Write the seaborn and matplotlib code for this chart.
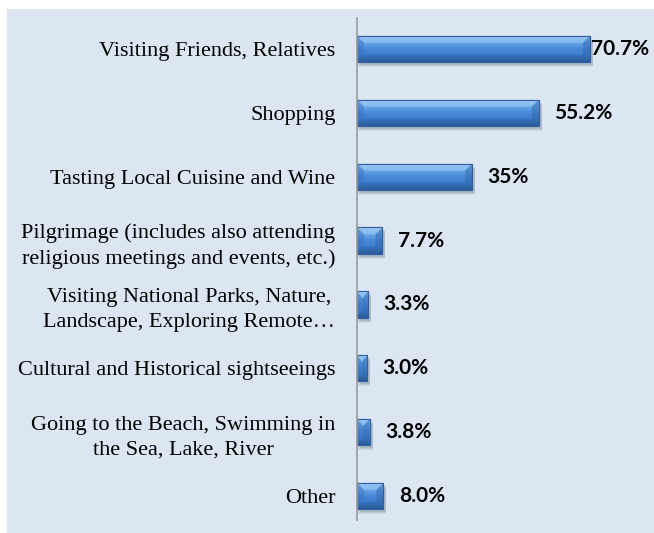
import numpy as np
import pandas as pd
import matplotlib
matplotlib.use("Agg")
import matplotlib.pyplot as plt
import seaborn as sns
from matplotlib.patches import Rectangle, Polygon
from matplotlib.colors import LinearSegmentedColormap

categories = [
    "Visiting Friends, Relatives",
    "Shopping",
    "Tasting Local Cuisine and Wine",
    "Pilgrimage (includes also attending\nreligious meetings and events, etc.)",
    "Visiting National Parks, Nature,\nLandscape, Exploring Remote…",
    "Cultural and Historical sightseeings",
    "Going to the Beach, Swimming in\nthe Sea, Lake, River",
    "Other",
]
values = [70.7, 55.2, 35.0, 7.7, 3.3, 3.0, 3.8, 8.0]
value_labels = ["70.7%", "55.2%", "35%", "7.7%", "3.3%", "3.0%", "3.8%", "8.0%"]

df = pd.DataFrame({"category": categories, "value": values})

sns.set_theme(style="white")
plt.rcParams["font.family"] = ["Liberation Serif", "DejaVu Serif"]

W, H = 654, 533
fig = plt.figure(figsize=(W / 100, H / 100), dpi=100)
fig.patch.set_facecolor("white")
panel = Rectangle((7 / W, 0), 1 - 7 / W, 1 - 9 / H, transform=fig.transFigure,
                  facecolor="#DCE6F2", edgecolor="none", zorder=-10)
fig.patches.append(panel)

AX_TOP, AX_BOT = 18, 520
ax_w_px = 280
ax_h_px = AX_BOT - AX_TOP
ax = fig.add_axes([357 / W, (H - AX_BOT) / H, ax_w_px / W, ax_h_px / H])
ax.set_facecolor("none")
ax.set_zorder(1)

sns.barplot(data=df, x="value", y="category", orient="h", color="#4585D6",
            width=0.41, ax=ax, saturation=1, edgecolor="#2F5F9E", linewidth=0.8)

XMAX = 85
YLIM = (7.376, -0.485)

cmap = LinearSegmentedColormap.from_list(
    "bev", ["#8EC0F2", "#6AA8EA", "#4A8AD9", "#3E7CCB", "#2C5F9F"])
grad = np.linspace(0, 1, 64).reshape(-1, 1)

x_per_px = XMAX / ax_w_px
y_per_px = (YLIM[0] - YLIM[1]) / ax_h_px

for p in list(ax.patches):
    x0, y0 = p.get_x(), p.get_y()
    w, h = p.get_width(), p.get_height()
    zo = p.get_zorder()
    # soft drop shadow
    for k, a in enumerate([0.10, 0.12, 0.14]):
        sh = Rectangle((x0 + (1 + k) * x_per_px, y0 + (5 - k) * y_per_px),
                       w + (2 - k) * x_per_px, h,
                       facecolor="#55606E", alpha=a, edgecolor="none", zorder=zo - 0.5)
        ax.add_patch(sh)
    im = ax.imshow(grad, extent=(x0, x0 + w, y0 + h, y0), aspect="auto", cmap=cmap,
                   zorder=zo + 0.1, interpolation="bicubic")
    im.set_clip_path(p)
    bpx = min(7, (w / x_per_px) / 2)
    bx = bpx * x_per_px
    by = min(7 * y_per_px, h / 2)
    top = Polygon([(x0, y0), (x0 + w, y0), (x0 + w - bx, y0 + by), (x0 + bx, y0 + by)],
                  closed=True, facecolor="#A9D0F7", alpha=0.45, edgecolor="none", zorder=zo + 0.2)
    left = Polygon([(x0, y0), (x0 + bx, y0 + by), (x0 + bx, y0 + h - by), (x0, y0 + h)],
                   closed=True, facecolor="#3572C0", alpha=0.45, edgecolor="none", zorder=zo + 0.2)
    right = Polygon([(x0 + w, y0), (x0 + w - bx, y0 + by), (x0 + w - bx, y0 + h - by), (x0 + w, y0 + h)],
                    closed=True, facecolor="#2D62A5", alpha=0.45, edgecolor="none", zorder=zo + 0.2)
    bottom = Polygon([(x0, y0 + h), (x0 + bx, y0 + h - by), (x0 + w - bx, y0 + h - by), (x0 + w, y0 + h)],
                     closed=True, facecolor="#285896", alpha=0.3, edgecolor="none", zorder=zo + 0.2)
    for poly in (top, left, right, bottom):
        ax.add_patch(poly)
    edge = Rectangle((x0, y0), w, h, facecolor="none", edgecolor="#2F5F9E", linewidth=0.8,
                     zorder=zo + 0.3)
    ax.add_patch(edge)

ax.set_xlim(0, XMAX)
ax.set_ylim(*YLIM)

bars = ax.containers[0]
anns = ax.bar_label(bars, labels=value_labels, padding=11, fontsize=15, fontweight="bold",
                    family=["Lato", "DejaVu Sans"], color="black")
# the longest bar's label sits right against the bar end, as in the original
anns[0].xyann = (1, anns[0].xyann[1])

ax.set_xlabel("")
ax.set_ylabel("")
ax.set_xticks([])
ax.tick_params(axis="y", length=0, pad=15.5, labelsize=16, labelcolor="black")
for lab in ax.get_yticklabels():
    lab.set_multialignment("center")
    lab.set_linespacing(1.4)
    lab.set_family(["Liberation Serif", "DejaVu Serif"])

for s in ["top", "right", "bottom"]:
    ax.spines[s].set_visible(False)
ax.spines["left"].set_color("#9A9A9A")
ax.spines["left"].set_linewidth(1.2)

fig.savefig("out.png", dpi=100, facecolor=fig.get_facecolor())
